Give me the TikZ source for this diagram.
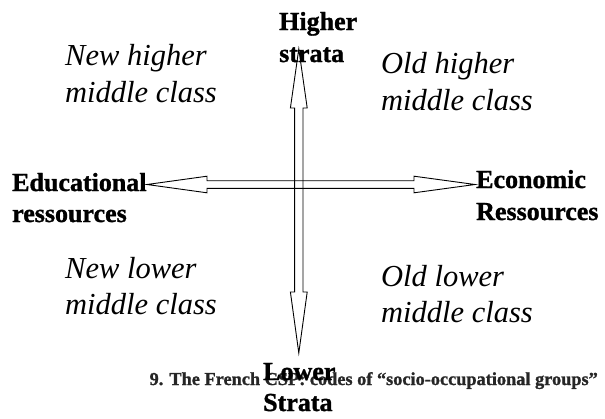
\documentclass[tikz,border=0pt]{standalone}
\usepackage{fontspec}
\setmainfont{Liberation Serif}[BoldFeatures={FakeBold=1.2}]
\begin{document}
\begin{tikzpicture}[x=1pt,y=-1pt,
  axislabel/.style={font=\fontsize{26}{31}\selectfont\bfseries, inner sep=0pt, anchor=base west},
  classlabel/.style={font=\fontsize{30.5}{36}\selectfont\itshape, inner sep=0pt, anchor=base west},
  captionlabel/.style={font=\fontsize{18.3}{22}\selectfont\bfseries, text=black!85, inner sep=0pt, anchor=base east},
  dblarrow/.style={draw=black, line width=0.9pt, line join=miter}]
\useasboundingbox (0,0) rectangle (605,418);
% class labels
\node[classlabel] (nh1) at (65,65) {New higher};
\node[classlabel] (nh2) at (65,102) {middle class};
\node[classlabel] (oh1) at (381,73) {Old higher};
\node[classlabel] (oh2) at (381,110) {middle class};
\node[classlabel] (nl1) at (65,278) {New lower};
\node[classlabel] (nl2) at (65,314) {middle class};
\node[classlabel] (ol1) at (381,286) {Old lower};
\node[classlabel] (ol2) at (381,322) {middle class};
% axis labels
\node[axislabel] (hs1) at (279,30) {Higher};
\node[axislabel] (hs2) at (279,62) {strata};
\node[axislabel] (ed1) at (12,191) {Educational};
\node[axislabel] (ed2) at (12,222) {ressources};
\node[axislabel] (ec1) at (476,188) {Economic};
\node[axislabel] (ec2) at (476,220) {Ressources};
% caption
\node[captionlabel] (cap) at (598,385) {9. The French CSP: codes of “socio-occupational groups”};
\node[axislabel] (ls1) at (263,380) {Lower};
\node[axislabel] (ls2) at (263,411) {Strata};
% arrow tips
\coordinate (vt) at (298.8,49);
\coordinate (vb) at (298.8,353);
\coordinate (hl) at (147,184.5);
\coordinate (hr) at (475,184.5);
% vertical double arrow
\draw[dblarrow] (vt) -- ++(-8.4,59) -- ++(4.2,0) -- ++(0,184) -- ++(-4.2,0) -- (vb)
  -- ++(8.4,-61) -- ++(-4.2,0) -- ++(0,-184) -- ++(4.2,0) -- cycle;
% horizontal double arrow
\draw[dblarrow] (hl) -- ++(60,-8.3) -- ++(0,4.5) -- ++(207,0) -- ++(0,-4.5) -- (hr)
  -- ++(-61,8.3) -- ++(0,-4.5) -- ++(-207,0) -- ++(0,4.5) -- cycle;
\end{tikzpicture}
\end{document}
